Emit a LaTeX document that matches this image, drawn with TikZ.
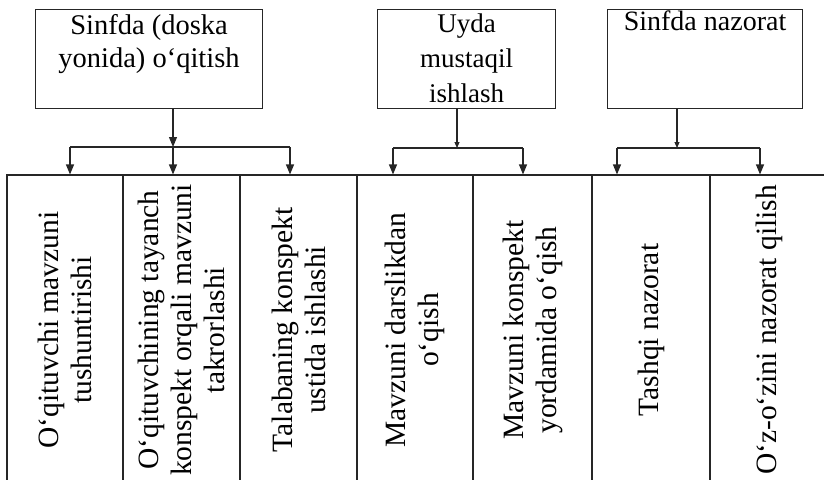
\documentclass[tikz,border=0pt]{standalone}
\usepackage{fontspec}
\setmainfont{Liberation Serif}
\usetikzlibrary{arrows.meta}
\newcommand{\boxtxt}[5]{\parbox[t][99pt][t]{#1}{\centering\fontsize{#4}{#5}\selectfont\rule{0pt}{#2}#3}}
\newcommand{\coltxt}[1]{\rotatebox{90}{\parbox{300pt}{\centering\fontsize{29.5}{33}\selectfont #1}}}
\begin{document}
\begin{tikzpicture}[x=1pt,y=-1pt,
  box/.style={draw=black!85, line width=1.1pt, inner sep=0pt, anchor=north west},
  col/.style={draw=black!85, line width=1.1pt, inner sep=0pt, minimum height=310pt},
  ln/.style={draw=black!85, line width=1.1pt},
  arr/.style={ln, -{Triangle[length=10pt,width=8pt]}},
  stem/.style={ln, -{Triangle[length=6pt,width=5pt]}}]
\useasboundingbox (0,0) rectangle (824,479);
\clip (0,0) rectangle (824,479);
% top boxes
\node[box] (b1) at (35,9)  {\boxtxt{227pt}{25pt}{Sinfda (doska\\ yonida) o‘qitish}{28.5}{32.5}};
\node[box] (b2) at (377,9) {\boxtxt{178pt}{22.5pt}{Uyda\\ mustaqil\\ ishlash}{27}{35}};
\node[box] (b3) at (607,9) {\boxtxt{195pt}{20.5pt}{Sinfda nazorat}{28}{33}};
% columns
\node[col, minimum width=116pt] (c1) at (65,330)    {\coltxt{O‘qituvchi mavzuni\\ tushuntirishi}};
\node[col, minimum width=117pt] (c2) at (181.5,330) {\coltxt{O‘qituvchining tayanch\\ konspekt orqali mavzuni\\ takrorlashi}};
\node[col, minimum width=117pt] (c3) at (298.5,330) {\coltxt{Talabaning konspekt\\ ustida ishlashi}};
\node[col, minimum width=116pt] (c4) at (415,330)   {\coltxt{Mavzuni darslikdan\\ o‘qish}};
\node[col, minimum width=119pt] (c5) at (532.5,330) {\coltxt{Mavzuni konspekt\\ yordamida o‘qish}};
\node[col, minimum width=118pt] (c6) at (651,330)   {\coltxt{Tashqi nazorat}};
\node[col, minimum width=118pt] (c7) at (769,330)   {\coltxt{O‘z-o‘zini nazorat qilish}};
% junction coordinates
\coordinate (L1) at (70,147);  \coordinate (J1) at (173,147); \coordinate (R1) at (290,147);
\coordinate (L2) at (393,148); \coordinate (J2) at (457,148); \coordinate (R2) at (523,148);
\coordinate (L3) at (617,148); \coordinate (J3) at (677,148); \coordinate (R3) at (760,148);
% stems
\draw[arr]  (J1 |- b1.south) -- (J1);
\draw[stem] (J2 |- b2.south) -- (J2);
\draw[stem] (J3 |- b3.south) -- (J3);
% bars
\draw[ln] (L1) -- (R1);
\draw[ln] (L2) -- (R2);
\draw[ln] (L3) -- (R3);
% branch arrows
\draw[arr] (L1) -- (L1 |- c1.north);
\draw[arr] (J1) -- (J1 |- c2.north);
\draw[arr] (R1) -- (R1 |- c3.north);
\draw[arr] (L2) -- (L2 |- c4.north);
\draw[arr] (R2) -- (R2 |- c5.north);
\draw[arr] (L3) -- (L3 |- c6.north);
\draw[arr] (R3) -- (R3 |- c7.north);
\end{tikzpicture}
\end{document}
